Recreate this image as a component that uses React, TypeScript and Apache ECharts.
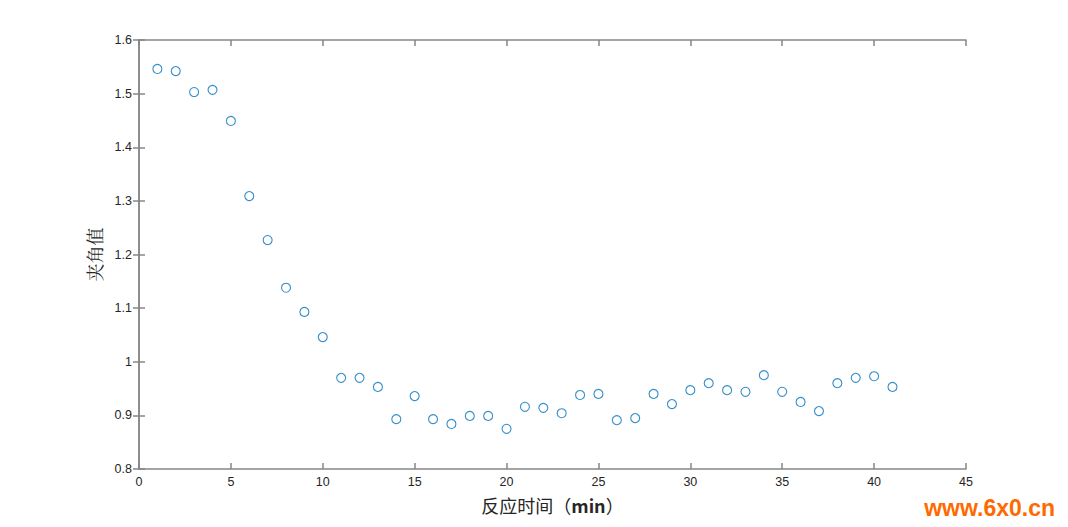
import React, { useEffect, useRef } from "react";
import * as echarts from "echarts";

const times: number[] = [1,2,3,4,5,6,7,8,9,10,11,12,13,14,15,16,17,18,19,20,21,22,23,24,25,26,27,28,29,30,31,32,33,34,35,36,37,38,39,40,41];
const angles: number[] = [1.546,1.542,1.503,1.507,1.449,1.309,1.227,1.138,1.093,1.046,0.970,0.970,0.953,0.893,0.936,0.893,0.884,0.899,0.899,0.875,0.916,0.914,0.904,0.938,0.940,0.891,0.895,0.940,0.921,0.947,0.960,0.947,0.944,0.975,0.944,0.925,0.908,0.960,0.970,0.973,0.953];
const xNameParts: string[] = ["反应时间（", "min", "）"];
const yName = "夹角值";

export default function App() {
  const ref = useRef<HTMLDivElement>(null);
  useEffect(() => {
    if (!ref.current) return;
    const chart = echarts.init(ref.current, undefined, { renderer: "svg" });
    const axisLine = { show: true, lineStyle: { color: "#868686", width: 1.5 } };
    const axisTick = { show: true, inside: true, length: 6, lineStyle: { color: "#868686", width: 1.5 } };
    const labelStyle = { color: "#262626", fontSize: 12.5, fontFamily: "Liberation Sans, Arial, sans-serif" };
    const cjk = "Noto Sans CJK SC, sans-serif";
    chart.setOption({
      animation: false,
      backgroundColor: "#ffffff",
      grid: { left: 131, right: 94, top: 32, bottom: 46, containLabel: false },
      xAxis: [
        {
          type: "value", min: 0, max: 45, interval: 5,
          axisLine, axisTick, splitLine: { show: false },
          axisLabel: { ...labelStyle, margin: 6 },
          name: `{n|${xNameParts[0]}}{b|${xNameParts[1]}}{n|${xNameParts[2]}}`,
          nameLocation: "middle", nameGap: 27,
          nameTextStyle: {
            color: "#262626", fontSize: 18, fontFamily: cjk,
            rich: {
              n: { color: "#262626", fontSize: 18, fontFamily: cjk },
              b: { color: "#262626", fontSize: 18, fontFamily: cjk, fontWeight: "bold" },
            },
          },
        },
        {
          type: "value", position: "top", min: 0, max: 45, interval: 5,
          axisLine, axisTick, splitLine: { show: false }, axisLabel: { show: false },
        },
      ],
      yAxis: [
        {
          type: "value", min: 0.8, max: 1.6, interval: 0.1,
          axisLine, axisTick, splitLine: { show: false },
          axisLabel: { ...labelStyle, margin: 7, formatter: (v: number) => String(Math.round(v * 10) / 10) },
          name: yName, nameLocation: "middle", nameGap: 36, nameRotate: 90,
          nameTextStyle: { color: "#262626", fontSize: 18, fontFamily: "Noto Serif CJK SC, Noto Sans CJK SC, serif" },
        },
        {
          type: "value", position: "right", min: 0.8, max: 1.6, interval: 0.1,
          axisLine, axisTick, splitLine: { show: false }, axisLabel: { show: false },
        },
      ],
      graphic: [
        {
          type: "text", right: 5, bottom: 0,
          style: { text: "www.6x0.cn", fill: "#ff6a00", font: "bold 23px 'Liberation Sans Narrow', 'Liberation Sans', Arial, sans-serif" },
        },
      ],
      series: [
        {
          type: "scatter",
          xAxisIndex: 0, yAxisIndex: 0,
          data: times.map((t, i) => [t, angles[i]]),
          symbol: "circle",
          symbolSize: 9,
          itemStyle: { color: "transparent", borderColor: "#0072BD", borderWidth: 1.1 },
        },
      ],
    });
    return () => chart.dispose();
  }, []);
  return <div ref={ref} style={{ width: 1052, height: 511 }} />;
}
